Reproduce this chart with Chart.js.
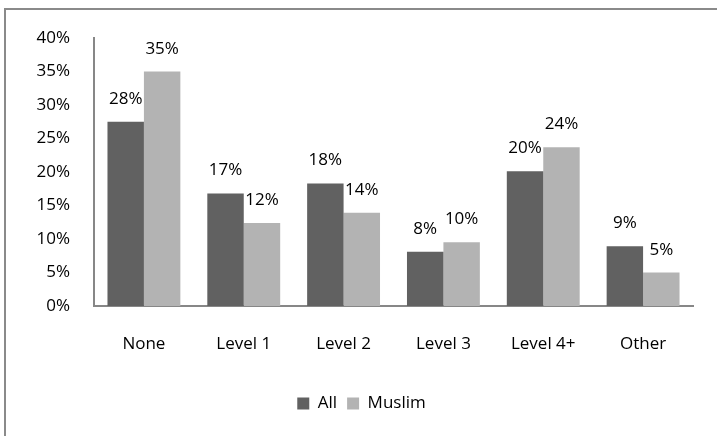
<!DOCTYPE html>
<html>
<head>
<meta charset="utf-8">
<script src="https://cdn.jsdelivr.net/npm/chart.js@4"></script>
<style>
  html, body { margin: 0; padding: 0; background: #fff; overflow: hidden; }
  #frame {
    position: absolute; left: 4px; top: 8px;
    width: 800px; height: 500px;
    border-left: 2px solid #8a8a8a; border-top: 2px solid #8a8a8a;
  }
  #wrap { position: absolute; left: 0; top: 0; width: 717px; height: 436px; }
</style>
</head>
<body>
<div id="frame"></div>
<div id="wrap"><canvas id="EduChart" width="717" height="436"></canvas></div>
<script>
const categories = ['None', 'Level 1', 'Level 2', 'Level 3', 'Level 4+', 'Other'];
const allValues = [27.5, 16.8, 18.3, 8.1, 20.1, 8.9];
const muslimValues = [35.0, 12.4, 13.9, 9.5, 23.7, 5.0];
const yTicks = [0, 5, 10, 15, 20, 25, 30, 35, 40];

const FONT = 'Open Sans';
const SIZE = 17;
const ctx = document.getElementById('EduChart').getContext('2d');

// labels sitting above each bar, like the spreadsheet original
const barLabels = {
    id: 'barLabels',
    afterDatasetsDraw(chart) {
        const c = chart.ctx;
        c.save();
        c.font = SIZE + 'px "' + FONT + '"';
        c.fillStyle = '#000';
        c.textAlign = 'center';
        c.textBaseline = 'alphabetic';
        chart.data.datasets.forEach((ds, i) => {
            chart.getDatasetMeta(i).data.forEach((bar, j) => {
                c.fillText(Math.round(ds.data[j]) + '%', bar.x, bar.y - 18);
            });
        });
        c.restore();
    }
};

const data = {
    labels: categories,
    datasets: [
        { label: 'All', data: allValues, backgroundColor: '#616161' },
        { label: 'Muslim', data: muslimValues, backgroundColor: '#b3b3b3' }
    ]
};

const config = {
    type: 'bar',
    data: data,
    plugins: [barLabels],
    options: {
        responsive: false,
        animation: false,
        layout: { padding: { left: 30, right: 24, top: 38, bottom: 14 } },
        datasets: { bar: { categoryPercentage: 0.73, barPercentage: 1 } },
        scales: {
            x: {
                grid: { display: false, drawTicks: false },
                border: { display: true, color: '#878787', width: 2 },
                ticks: { color: '#000', padding: 28, font: { family: FONT, size: SIZE } },
                afterFit: s => { s.height = 79; }
            },
            y: {
                min: 0, max: 40,
                afterBuildTicks: s => { s.ticks = yTicks.map(v => ({ value: v })); },
                grid: { display: false, drawTicks: false },
                border: { display: true, color: '#878787', width: 2 },
                ticks: {
                    color: '#000', padding: 24,
                    font: { family: FONT, size: SIZE },
                    callback: v => v + '%'
                },
                afterFit: s => { s.width = 64; }
            }
        },
        plugins: {
            legend: {
                position: 'bottom',
                labels: {
                    color: '#000', boxWidth: 12, boxHeight: 12, padding: 10,
                    font: { family: FONT, size: SIZE }
                }
            },
            tooltip: { enabled: false }
        }
    }
};

const eduChart = new Chart(ctx, config);
</script>
</body>
</html>
